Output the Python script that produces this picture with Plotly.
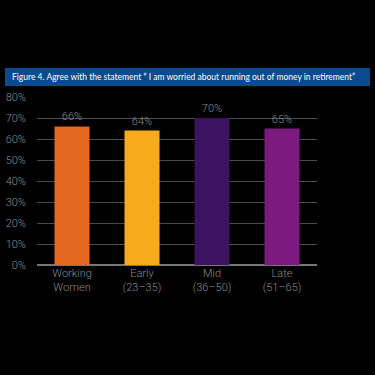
import plotly.graph_objects as go

categories = ["Working<br>Women", "Early<br>(23–35)", "Mid<br>(36–50)", "Late<br>(51–65)"]
values = [66, 64, 70, 65]
colors = ["#E2691F", "#F8A91C", "#3B1361", "#7D1A7F"]
tick_vals = [0, 10, 20, 30, 40, 50, 60, 70, 80]
tick_text = [f"{v}%" for v in tick_vals]
title = "Figure 4. Agree with the statement “ I am worried about running out of money in retirement”"

L, R, T, B = 37, 317, 97, 265
W, H = R - L, B - T
def px(x): return (x - L) / W
def py(y): return (B - y) / H

font_c = "Roboto, sans-serif"
gray = "#8c8c8c"

fig = go.Figure(go.Bar(
    x=categories, y=values, marker=dict(color=colors, line=dict(width=0)), width=0.5,
    text=[f"{v}%" for v in values], textposition="outside",
    textfont=dict(color=gray, size=11, family=font_c, weight=300),
    cliponaxis=False,
))
fig.update_layout(
    width=375, height=375, paper_bgcolor="black", plot_bgcolor="black",
    margin=dict(l=L, r=375 - R, t=T, b=375 - B),
    showlegend=False,
    xaxis=dict(showgrid=False, tickfont=dict(color=gray, size=11, family=font_c, weight=300),
               ticks="", ticklen=0, showline=False, zeroline=False, automargin=False),
    yaxis=dict(range=[0, 80], tickvals=tick_vals, ticktext=tick_text,
               showgrid=True, gridcolor="#4a4a4a", gridwidth=1,
               zeroline=True, zerolinecolor="#777777", zerolinewidth=1.5,
               tickfont=dict(color=gray, size=11, family=font_c, weight=300),
               ticks="", ticklabelstandoff=10, automargin=False),
    shapes=[dict(type="rect", xref="paper", yref="paper",
                 x0=px(5), x1=px(370), y0=py(86), y1=py(68),
                 fillcolor="#0A4A8E", line=dict(width=0), layer="above")],
    annotations=[dict(text=title, xref="paper", yref="paper", x=px(10), y=py(77),
                      xanchor="left", yanchor="middle", showarrow=False,
                      font=dict(color="white", size=8.5, family="Lato, Open Sans, sans-serif"))],
)
fig.write_html("out.html", config={"displayModeBar": False},
               post_script="document.body.style.margin='0';document.body.style.overflow='hidden';")
